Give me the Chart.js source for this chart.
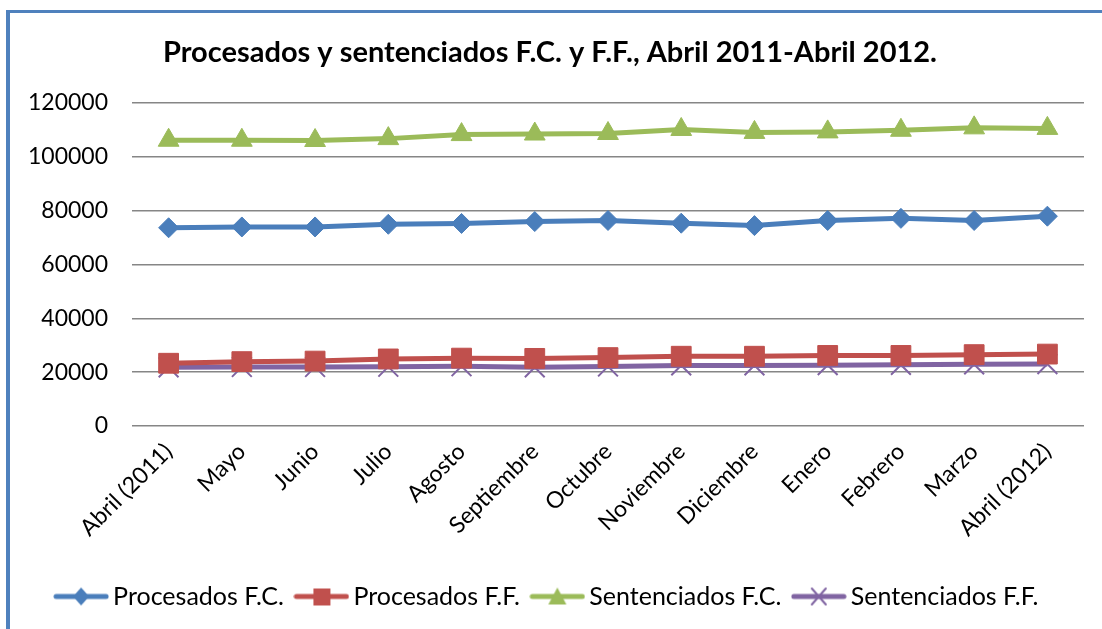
<!DOCTYPE html>
<html>
<head>
<meta charset="utf-8">
<script src="https://cdn.jsdelivr.net/npm/chart.js@4.4.0/dist/chart.umd.min.js"></script>
<style>
  html, body { margin: 0; padding: 0; background: #fff; overflow: hidden; }
  #wrap { position: relative; width: 1102px; height: 629px; }
  #frame { position: absolute; left: 6px; top: 10px; width: 1200px; height: 700px;
           border-left: 4px solid #4f81bd; border-top: 3px solid #4f81bd; pointer-events: none; }
  canvas { position: absolute; left: 0; top: 0; }
</style>
</head>
<body>
<div id="wrap">
  <canvas id="chart" width="1102" height="629"></canvas>
  <div id="frame"></div>
</div>
<script>
// DATA
const months = ['Abril (2011)', 'Mayo', 'Junio', 'Julio', 'Agosto', 'Septiembre', 'Octubre',
  'Noviembre', 'Diciembre', 'Enero', 'Febrero', 'Marzo', 'Abril (2012)'];
const procesadosFC = [73600, 73900, 73900, 74900, 75200, 75900, 76300, 75300, 74400, 76300, 77100, 76300, 77900];
const procesadosFF = [23300, 23900, 24100, 24900, 25200, 25100, 25400, 25900, 25900, 26200, 26200, 26500, 26700];
const sentenciadosFC = [106100, 106100, 106000, 106700, 108200, 108400, 108600, 110100, 109000, 109200, 109800, 110700, 110500];
const sentenciadosFF = [21800, 21900, 21900, 22000, 22200, 21800, 22100, 22500, 22500, 22600, 22700, 22900, 23000];
const yTicks = [0, 20000, 40000, 60000, 80000, 100000, 120000];

const FONT = 'Lato, "Open Sans", sans-serif';

// legend icons: line with marker in the middle
const legendIcon = (color, style) => {
  const c = document.createElement('canvas');
  c.width = 56; c.height = 24;
  const ctx = c.getContext('2d');
  ctx.strokeStyle = color;
  ctx.fillStyle = color;
  ctx.lineWidth = 5;
  ctx.lineCap = 'round';
  ctx.beginPath(); ctx.moveTo(3, 12); ctx.lineTo(53, 12); ctx.stroke();
  ctx.beginPath();
  if (style === 'diamond') {
    ctx.moveTo(28, 3); ctx.lineTo(36, 12); ctx.lineTo(28, 21); ctx.lineTo(20, 12); ctx.closePath(); ctx.fill();
  } else if (style === 'square') {
    ctx.rect(20, 4, 17, 17); ctx.fill();
  } else if (style === 'triangle') {
    ctx.moveTo(28, 3); ctx.lineTo(37, 20); ctx.lineTo(19, 20); ctx.closePath(); ctx.fill();
  } else {
    ctx.lineWidth = 2;
    ctx.moveTo(21, 4); ctx.lineTo(35, 20); ctx.moveTo(35, 4); ctx.lineTo(21, 20); ctx.stroke();
  }
  return c;
};

const series = [
  { label: 'Procesados F.C.', data: procesadosFC, color: '#4a7ebb', point: 'rectRot', radius: 10, icon: 'diamond' },
  { label: 'Procesados F.F.', data: procesadosFF, color: '#c0504d', point: 'rect', radius: 14, icon: 'square' },
  { label: 'Sentenciados F.C.', data: sentenciadosFC, color: '#9bbb59', point: 'triangle', radius: 12, icon: 'triangle' },
  { label: 'Sentenciados F.F.', data: sentenciadosFF, color: '#8064a2', point: 'crossRot', radius: 14, icon: 'cross' }
];

const datasets = series.map(s => ({
  label: s.label,
  data: s.data,
  borderColor: s.color,
  backgroundColor: s.color,
  borderWidth: 5,
  pointStyle: s.point,
  pointRadius: s.radius,
  pointBorderWidth: s.point === 'crossRot' ? 2 : 1,
  pointBackgroundColor: s.color,
  pointBorderColor: s.color,
  tension: 0,
  icon: legendIcon(s.color, s.icon)
}));

new Chart(document.getElementById('chart').getContext('2d'), {
  type: 'line',
  data: { labels: months, datasets: datasets },
  options: {
    responsive: false,
    animation: false,
    layout: { padding: { left: 0, right: 2, top: 0, bottom: 10 } },
    plugins: {
      title: {
        display: true,
        text: 'Procesados y sentenciados F.C. y F.F., Abril 2011-Abril 2012.',
        color: '#000',
        font: { family: FONT, size: 29, weight: 'bold' },
        padding: { top: 35, bottom: 33 }
      },
      legend: {
        position: 'bottom',
        labels: {
          usePointStyle: true,
          pointStyleWidth: 39,
          color: '#000',
          font: { family: FONT, size: 25 },
          padding: 18,
          generateLabels: (chart) => chart.data.datasets.map((ds, i) => ({
            text: ds.label,
            pointStyle: ds.icon,
            datasetIndex: i,
            fontColor: '#000',
            lineWidth: 0
          }))
        }
      },
      tooltip: { enabled: false }
    },
    scales: {
      x: {
        offset: true,
        grid: { display: false },
        border: { display: false },
        ticks: {
          color: '#000',
          font: { family: FONT, size: 23 },
          minRotation: 45,
          maxRotation: 45,
          autoSkip: false,
          padding: 4
        },
        afterFit: (scale) => { scale.height = 140; }
      },
      y: {
        min: 0,
        max: 120000,
        afterBuildTicks: (scale) => { scale.ticks = yTicks.map(v => ({ value: v })); },
        grid: { color: '#868686', lineWidth: 1.5, drawTicks: false },
        border: { display: false },
        ticks: {
          color: '#000',
          font: { family: FONT, size: 23 },
          padding: 24,
          callback: (v) => String(v)
        },
        afterFit: (scale) => { scale.width = 132; }
      },
      // empty right-side spacer so the plot ends where the reference does
      yRight: {
        position: 'right',
        grid: { display: false },
        border: { display: false },
        ticks: { display: false },
        afterFit: (scale) => { scale.width = 16; }
      }
    }
  }
});
</script>
</body>
</html>
